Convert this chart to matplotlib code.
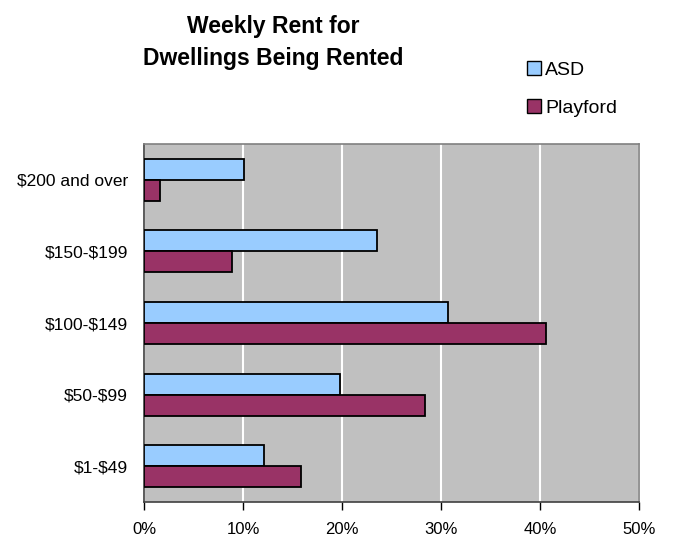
import numpy as np
import matplotlib
matplotlib.use('Agg')
import matplotlib.pyplot as plt
from matplotlib.patches import Patch

plt.rcParams['font.family'] = ['Liberation Sans', 'DejaVu Sans']

# 租金区间（自下而上）
categories = [r'\$1-\$49', r'\$50-\$99', r'\$100-\$149', r'\$150-\$199', r'\$200 and over']
asd = [12.1, 19.8, 30.7, 23.5, 10.1]
playford = [15.8, 28.4, 40.6, 8.9, 1.6]
x_ticks = [0, 10, 20, 30, 40, 50]
x_labels = ['0%', '10%', '20%', '30%', '40%', '50%']

fig = plt.figure(figsize=(6.75, 5.37), dpi=100)
ax = fig.add_axes([0.214, 0.0652, 0.7326, 0.6666])
ax.set_facecolor('#C0C0C0')

y = np.arange(len(categories))
h = 0.293
ax.barh(y + h / 2, asd, height=h, color='#99CCFF', edgecolor='black', linewidth=1.3, zorder=3)
ax.barh(y - h / 2, playford, height=h, color='#993366', edgecolor='black', linewidth=1.3, zorder=3)

ax.set_xlim(0, 50)
ax.set_ylim(-0.5, len(categories) - 0.5)
ax.set_xticks(x_ticks)
ax.set_xticklabels(x_labels, fontsize=12)
ax.set_yticks(y)
ax.set_yticklabels(categories, fontsize=12.5)
ax.tick_params(axis='y', length=0, pad=12)
ax.tick_params(axis='x', length=5.5, width=1, direction='out', pad=9)

# 白色网格线
ax.grid(axis='x', color='white', linewidth=1.5, zorder=1)
ax.grid(axis='y', visible=False)

for s in ['top', 'right']:
    ax.spines[s].set_color('#808080')
    ax.spines[s].set_linewidth(1.2)
for s in ['left', 'bottom']:
    ax.spines[s].set_color('#404040')
    ax.spines[s].set_linewidth(1.2)

fig.text(0.405, 0.921, 'Weekly Rent for\nDwellings Being Rented', ha='center', va='center',
         fontsize=16.5, fontweight='bold', linespacing=1.5)

handles = [Patch(facecolor='#99CCFF', edgecolor='black', label='ASD'),
           Patch(facecolor='#993366', edgecolor='black', label='Playford')]
fig.legend(handles=handles, loc='upper left', bbox_to_anchor=(0.78, 0.887), frameon=False,
           fontsize=14, handlelength=0.75, handleheight=0.75, handletextpad=0.2, labelspacing=1.05,
           borderaxespad=0, borderpad=0)

fig.savefig('out.png', dpi=100)
